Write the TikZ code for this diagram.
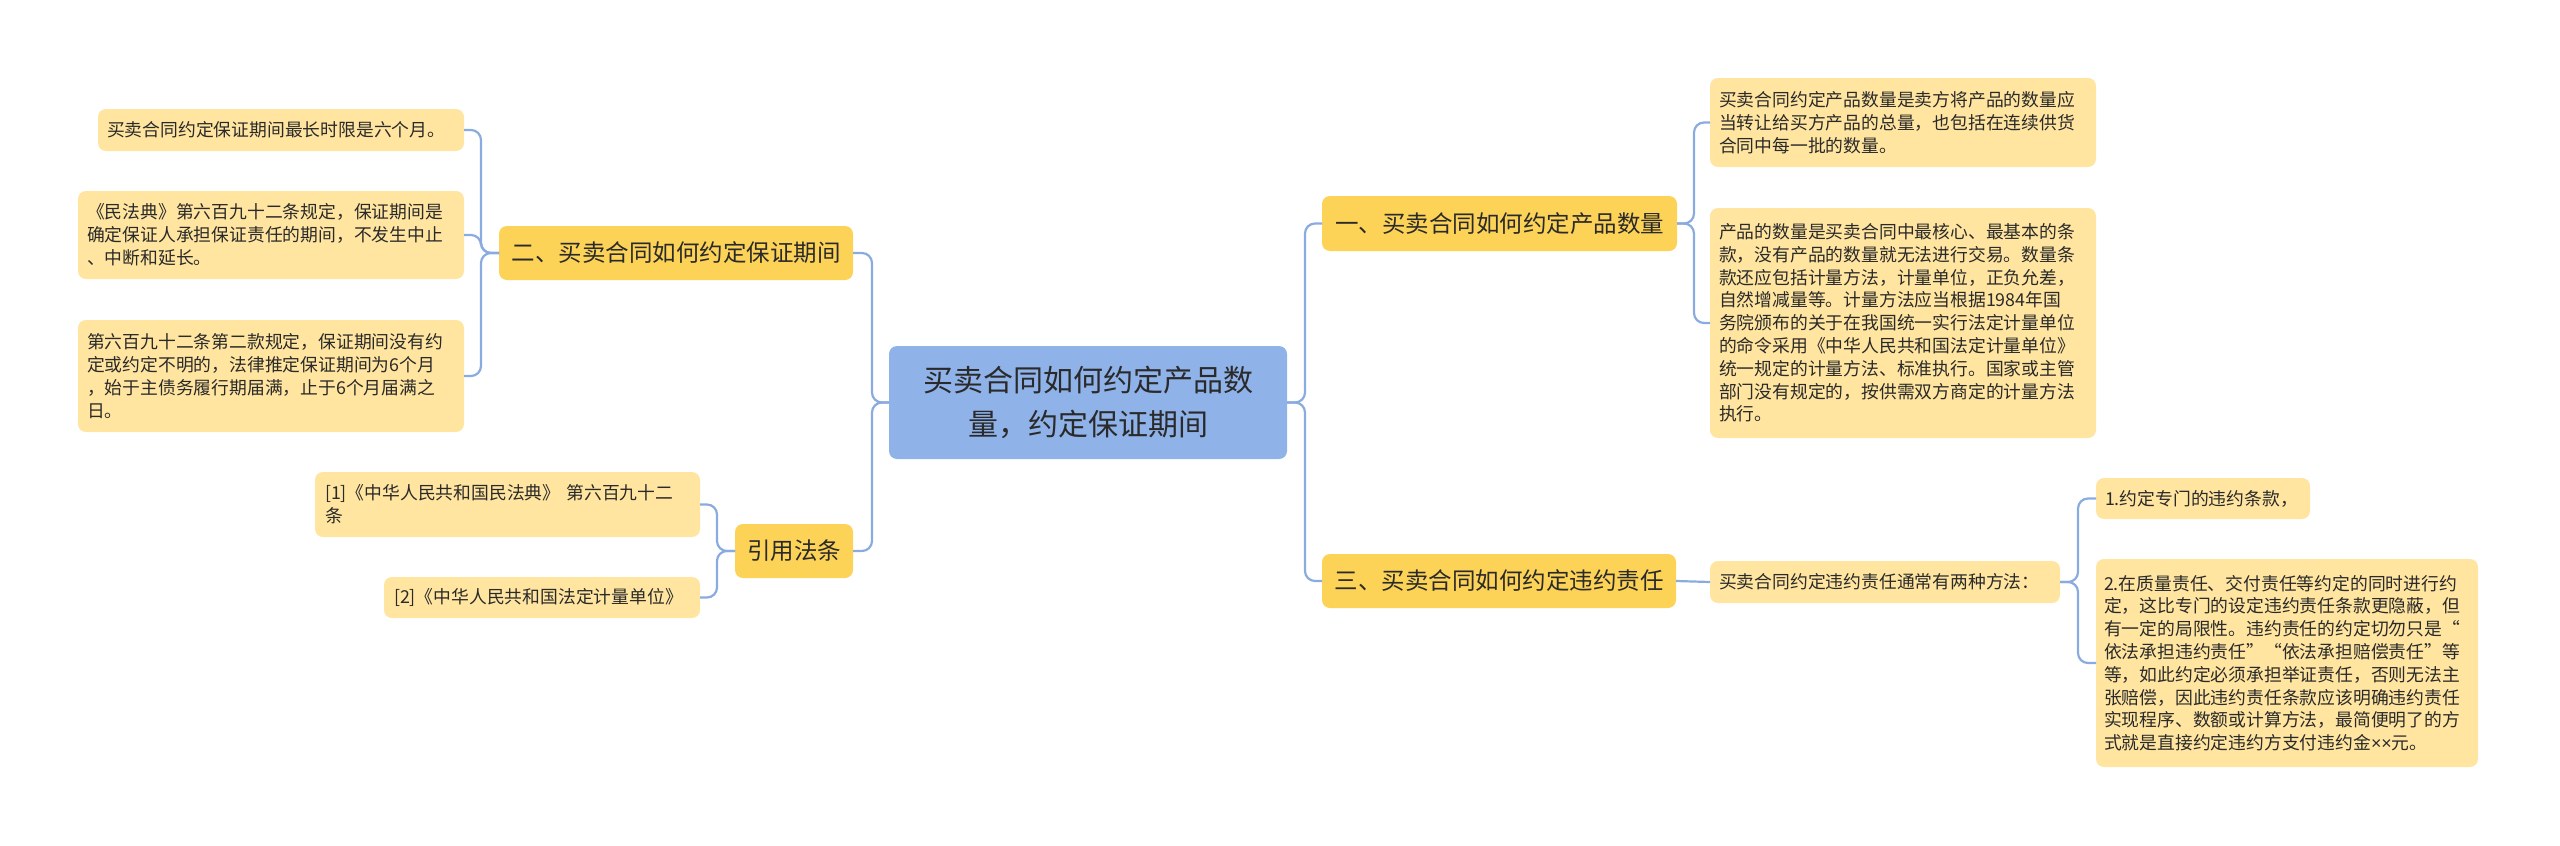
\documentclass[tikz,border=0pt]{standalone}
\usepackage{fontspec}
\setmainfont{Noto Sans CJK SC}
\newfontfamily\latinfont{Liberation Sans}
\definecolor{rootc}{HTML}{8FB2E9}
\definecolor{branchc}{HTML}{FCD257}
\definecolor{leafc}{HTML}{FFE5A0}
\definecolor{linec}{HTML}{8AABE0}
\definecolor{txtc}{HTML}{2A2A2A}
\tikzset{
  box/.style={rounded corners=8pt, inner sep=0pt, outer sep=0pt, text=txtc},
  rootbox/.style={box, fill=rootc, align=center, font=\fontsize{30}{44}\selectfont},
  branchbox/.style={box, fill=branchc, align=center, font=\fontsize{23.5}{30}\selectfont},
  leafbox/.style={box, fill=leafc, align=left, font=\fontsize{17.8}{22.8}\selectfont},
  conn/.style={draw=linec, line width=2.2pt, rounded corners=10pt},
}
\newcommand{\bx}[6]{% name, style, cx, cy, w, h ; text after
  \node[#2, minimum width=#5pt, minimum height=#6pt] (#1) at (#3,#4)}
\begin{document}
\begin{tikzpicture}[x=1pt,y=-1pt]
\useasboundingbox (0,0) rectangle (2560,846);
% root
\bx{root}{rootbox}{1088}{402.5}{398}{113}{买卖合同如何约定产品数\\量，约定保证期间};
% branches
\bx{b1}{branchbox}{1499.5}{223.5}{355}{55}{一、买卖合同如何约定产品数量};
\bx{b2}{branchbox}{676}{253}{354}{54}{二、买卖合同如何约定保证期间};
\bx{b3}{branchbox}{1499}{581}{354}{54}{三、买卖合同如何约定违约责任};
\bx{b4}{branchbox}{794}{551}{118}{54}{引用法条};
% leaves
\node[leafbox, minimum width=386pt, minimum height=89pt, text width=368pt] (a1) at (1903,122.5)
  {买卖合同约定产品数量是卖方将产品的数量应\\当转让给买方产品的总量，也包括在连续供货\\合同中每一批的数量。};
\node[leafbox, minimum width=386pt, minimum height=230pt, text width=368pt] (a2) at (1903,323)
  {产品的数量是买卖合同中最核心、最基本的条\\款，没有产品的数量就无法进行交易。数量条\\款还应包括计量方法，计量单位，正负允差，\\自然增减量等。计量方法应当根据1984年国\\务院颁布的关于在我国统一实行法定计量单位\\的命令采用《中华人民共和国法定计量单位》\\统一规定的计量方法、标准执行。国家或主管\\部门没有规定的，按供需双方商定的计量方法\\执行。};
\node[leafbox, minimum width=366pt, minimum height=42pt, text width=348pt] (l1) at (281,130)
  {买卖合同约定保证期间最长时限是六个月。};
\node[leafbox, minimum width=386pt, minimum height=88pt, text width=368pt] (l2) at (271,235)
  {《民法典》第六百九十二条规定，保证期间是\\确定保证人承担保证责任的期间，不发生中止\\、中断和延长。};
\node[leafbox, minimum width=386pt, minimum height=112pt, text width=368pt] (l3) at (271,376)
  {第六百九十二条第二款规定，保证期间没有约\\定或约定不明的，法律推定保证期间为6个月\\，始于主债务履行期届满，止于6个月届满之\\日。};
\node[leafbox, minimum width=385pt, minimum height=65pt, text width=365pt] (r1) at (507.5,504.5)
  {[1]《中华人民共和国民法典》 第六百九十二\\条};
\node[leafbox, minimum width=316pt, minimum height=41pt, text width=296pt] (r2) at (542,597.5)
  {[2]《中华人民共和国法定计量单位》};
\node[leafbox, minimum width=350pt, minimum height=42pt, text width=332pt] (c1) at (1885,582)
  {买卖合同约定违约责任通常有两种方法：};
\node[leafbox, minimum width=214pt, minimum height=41pt, text width=196pt] (d1) at (2203,498.5)
  {1.约定专门的违约条款，};
\node[leafbox, minimum width=382pt, minimum height=208pt, text width=366pt] (d2) at (2287,663)
  {2.在质量责任、交付责任等约定的同时进行约\\定，这比专门的设定违约责任条款更隐蔽，但\\有一定的局限性。违约责任的约定切勿只是“\\依法承担违约责任”“依法承担赔偿责任”等\\等，如此约定必须承担举证责任，否则无法主\\张赔偿，因此违约责任条款应该明确违约责任\\实现程序、数额或计算方法，最简便明了的方\\式就是直接约定违约方支付违约金{\latinfont ××}元。};
% spine coordinates
\coordinate (sRootL) at (872,0);
\coordinate (sRootR) at (1305,0);
\coordinate (sB1) at (1694,0);
\coordinate (sB2) at (481,0);
\coordinate (sB4) at (717,0);
\coordinate (sC1) at (2078,0);
% connectors
\draw[conn] (root.west) -- (root.west -| sRootL) |- (b2.east);
\draw[conn] (root.west) -- (root.west -| sRootL) |- (b4.east);
\draw[conn] (root.east) -- (root.east -| sRootR) |- (b1.west);
\draw[conn] (root.east) -- (root.east -| sRootR) |- (b3.west);
\draw[conn] (b1.east) -- (b1.east -| sB1) |- (a1.west);
\draw[conn] (b1.east) -- (b1.east -| sB1) |- (a2.west);
\draw[conn] (b2.west) -- (b2.west -| sB2) |- (l1.east);
\draw[conn] (b2.west) -- (b2.west -| sB2) |- (l2.east);
\draw[conn] (b2.west) -- (b2.west -| sB2) |- (l3.east);
\draw[conn] (b4.west) -- (b4.west -| sB4) |- (r1.east);
\draw[conn] (b4.west) -- (b4.west -| sB4) |- (r2.east);
\draw[conn] (b3.east) -- (c1.west);
\draw[conn] (c1.east) -- (c1.east -| sC1) |- (d1.west);
\draw[conn] (c1.east) -- (c1.east -| sC1) |- (d2.west);
\end{tikzpicture}
\end{document}
